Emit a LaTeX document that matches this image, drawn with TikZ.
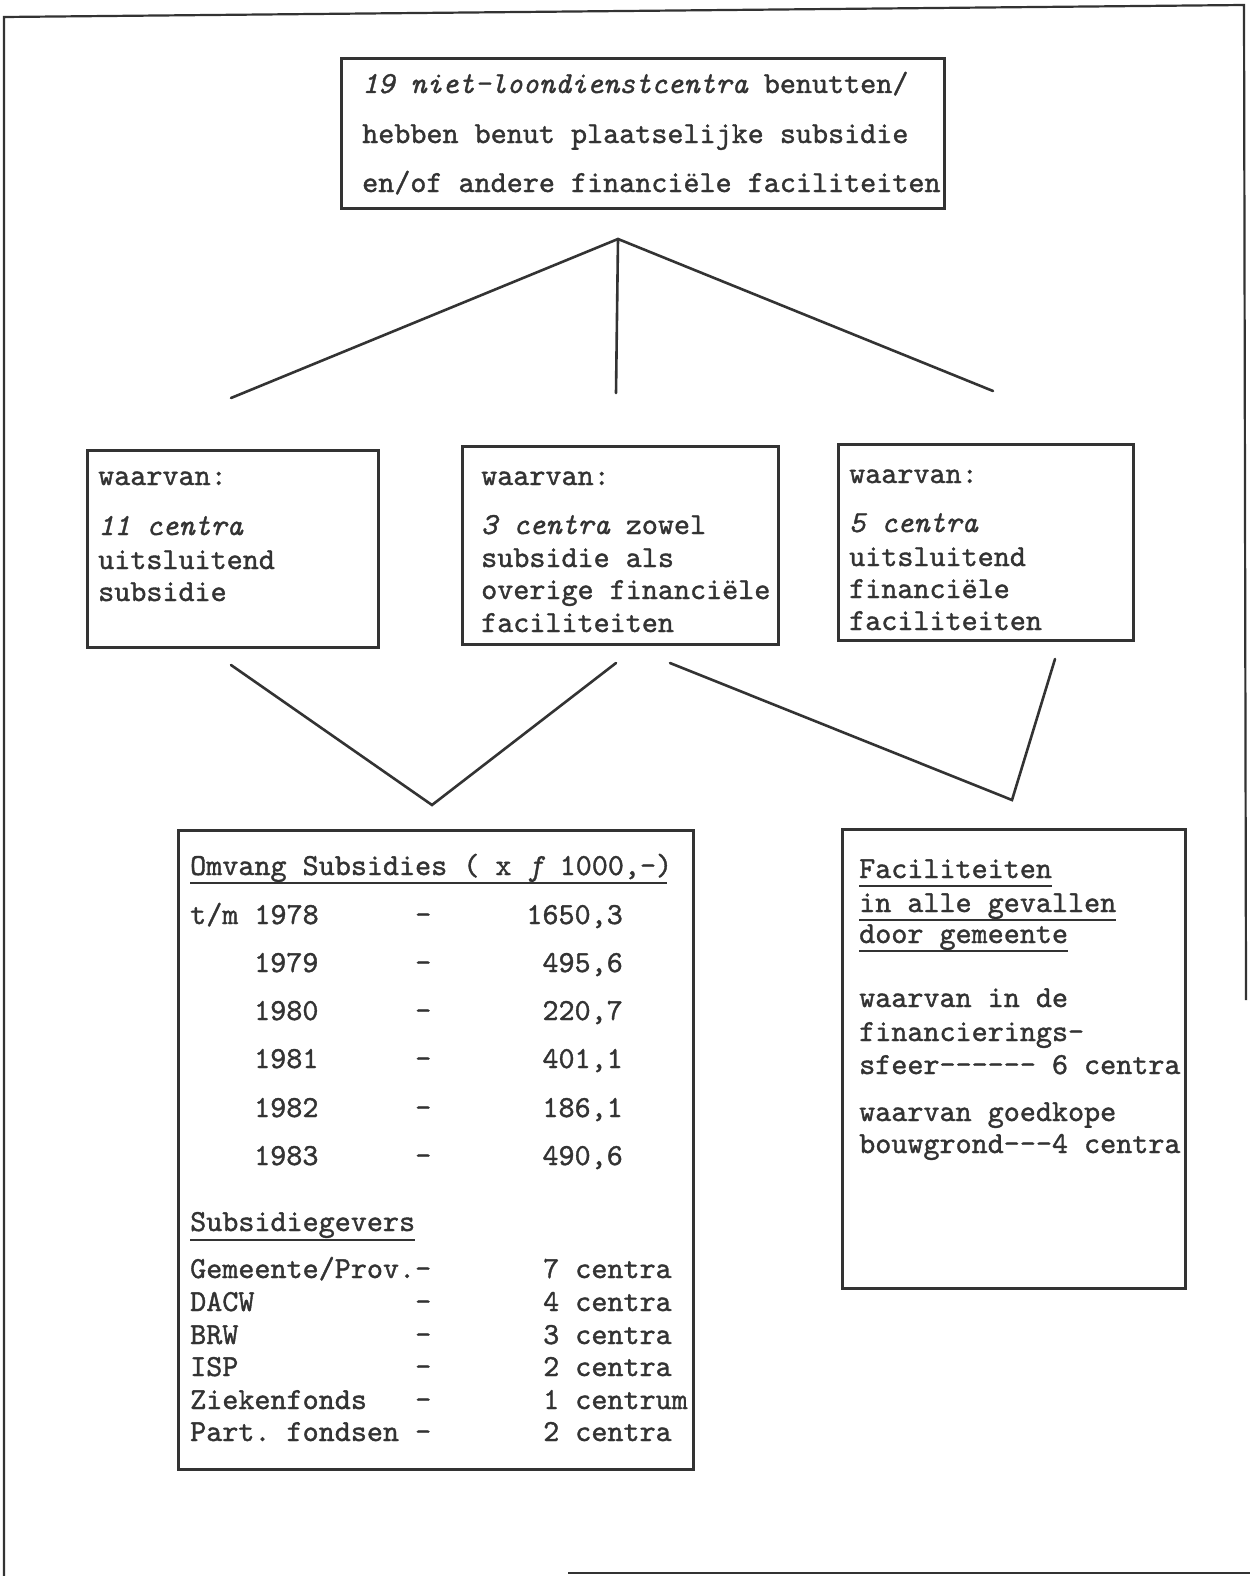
\documentclass[tikz,border=0pt]{standalone}
\usepackage{fontspec}
\setmonofont{lmmono10-regular.otf}[ItalicFont=lmmono10-italic.otf, FakeBold=1.2]
\definecolor{ink}{gray}{0.2}
\begin{document}
\begin{tikzpicture}[x=1pt,y=-1pt,
  box/.style={draw=ink, line width=2.6pt, rectangle, inner sep=0pt, anchor=north west},
  conn/.style={draw=ink, line width=2.6pt, line cap=round},
  frame/.style={draw=ink, line width=2.2pt},
  txt/.style={anchor=base west, inner sep=0pt, text=ink, font=\ttfamily\fontsize{30.6}{34}\selectfont},
  txtr/.style={txt, anchor=base east},
  uline/.style={draw=ink, line width=1.6pt}]
\useasboundingbox (0,0) rectangle (1250,1576);
\fill[white] (0,0) rectangle (1250,1576);

% outer frame (partial)
\coordinate (f1) at (4,1576);
\coordinate (f2) at (4,17);
\coordinate (f3) at (1244,5);
\coordinate (f4) at (1246,1000);
\coordinate (f5) at (568,1573);
\coordinate (f6) at (1250,1573);
\draw[frame] (f1) -- (f2) -- (f3) -- (f4);
\draw[frame] (f5) -- (f6);

% boxes
\node[box, minimum width=603pt, minimum height=150pt] (top) at (340,57) {};
\node[box, minimum width=291pt, minimum height=197pt] (bl) at (86,449) {};
\node[box, minimum width=316pt, minimum height=198pt] (bm) at (461,445) {};
\node[box, minimum width=295pt, minimum height=196pt] (br) at (837,443) {};
\node[box, minimum width=515pt, minimum height=639pt] (sub) at (177,829) {};
\node[box, minimum width=343pt, minimum height=459pt] (fac) at (841,828) {};

% top box text
\node[txt] (t1) at (362,93) {\itshape 19 niet-loondienstcentra\upshape{} benutten/};
\node[txt] (t2) at (362,143) {hebben benut plaatselijke subsidie};
\node[txt] (t3) at (362,192) {en/of andere financiële faciliteiten};

% connectors top
\coordinate (apex) at (618,239);
\coordinate (aL) at (231,398);
\coordinate (aM) at (616,393);
\coordinate (aR) at (993,391);
\draw[conn] (aL) -- (apex) -- (aR);
\draw[conn] (apex) -- (aM);

% left box
\node[txt] (l1) at (98,485) {waarvan:};
\node[txt] (l2) at (98,535) {\itshape 11 centra};
\node[txt] (l3) at (98,569) {uitsluitend};
\node[txt] (l4) at (98,601) {subsidie};

% middle box
\node[txt] (m1) at (481,485) {waarvan:};
\node[txt] (m2) at (481,534) {\itshape 3 centra\upshape{} zowel};
\node[txt] (m3) at (481,567) {subsidie als};
\node[txt] (m4) at (481,599) {overige financiële};
\node[txt] (m5) at (481,632) {faciliteiten};

% right box
\node[txt] (r1) at (849,483) {waarvan:};
\node[txt] (r2) at (849,532) {\itshape 5 centra};
\node[txt] (r3) at (849,566) {uitsluitend};
\node[txt] (r4) at (849,598) {financiële};
\node[txt] (r5) at (849,630) {faciliteiten};

% lower connectors
\coordinate (vL) at (231,665);
\coordinate (vB) at (432,805);
\coordinate (vM) at (616,663);
\coordinate (wL) at (670,663);
\coordinate (wB) at (1012,800);
\coordinate (wR) at (1055,659);
\draw[conn] (vL) -- (vB) -- (vM);
\draw[conn] (wL) -- (wB) -- (wR);

% subsidy box
\node[txt] (sh) at (190,875) {Omvang Subsidies ( x \itshape f\upshape{} 1000,-)};
\draw[uline] ([yshift=-8pt]sh.base west) -- ([xshift=-5pt,yshift=-8pt]sh.base east);
\node[txt] (y0) at (190,924) {t/m 1978};
\node[txt] (y1) at (254,972) {1979};
\node[txt] (y2) at (254,1020) {1980};
\node[txt] (y3) at (254,1068) {1981};
\node[txt] (y4) at (254,1117) {1982};
\node[txt] (y5) at (254,1165) {1983};
\foreach \i/\yy in {0/924,1/972,2/1020,3/1068,4/1117,5/1165}{
  \node[txt] (yd\i) at (415,\yy) {-};
}
\node[txtr] (v0) at (623,924) {1650,3};
\node[txtr] (v1) at (623,972) {495,6};
\node[txtr] (v2) at (623,1020) {220,7};
\node[txtr] (v3) at (623,1068) {401,1};
\node[txtr] (v4) at (623,1117) {186,1};
\node[txtr] (v5) at (623,1165) {490,6};

\node[txt] (gh) at (190,1231) {Subsidiegevers};
\draw[uline] ([yshift=-9pt]gh.base west) -- ([yshift=-9pt]gh.base east);
\node[txt] (g1) at (190,1278) {Gemeente/Prov.-};
\node[txt] (g2) at (190,1311) {DACW};
\node[txt] (g3) at (190,1344) {BRW};
\node[txt] (g4) at (190,1376) {ISP};
\node[txt] (g5) at (190,1409) {Ziekenfonds};
\node[txt] (g6) at (190,1441) {Part. fondsen -};
\foreach \i/\yy in {2/1311,3/1344,4/1376,5/1409}{
  \node[txt] (gd\i) at (415,\yy) {-};
}
\node[txt] (c1) at (543,1278) {7 centra};
\node[txt] (c2) at (543,1311) {4 centra};
\node[txt] (c3) at (543,1344) {3 centra};
\node[txt] (c4) at (543,1376) {2 centra};
\node[txt] (c5) at (543,1409) {1 centrum};
\node[txt] (c6) at (543,1441) {2 centra};

% facilities box
\node[txt] (fa1) at (859,878) {Faciliteiten};
\node[txt] (fa2) at (859,912) {in alle gevallen};
\node[txt] (fa3) at (859,943) {door gemeente};
\foreach \n in {fa1,fa2,fa3}{
  \draw[uline] ([yshift=-8pt]\n.base west) -- ([yshift=-8pt]\n.base east);
}
\node[txt] (fb1) at (859,1007) {waarvan in de};
\node[txt] (fb2) at (859,1041) {financierings-};
\node[txt] (fb3) at (859,1074) {sfeer------ 6 centra};
\node[txt] (fb4) at (859,1121) {waarvan goedkope};
\node[txt] (fb5) at (859,1153) {bouwgrond---4 centra};
\end{tikzpicture}
\end{document}
